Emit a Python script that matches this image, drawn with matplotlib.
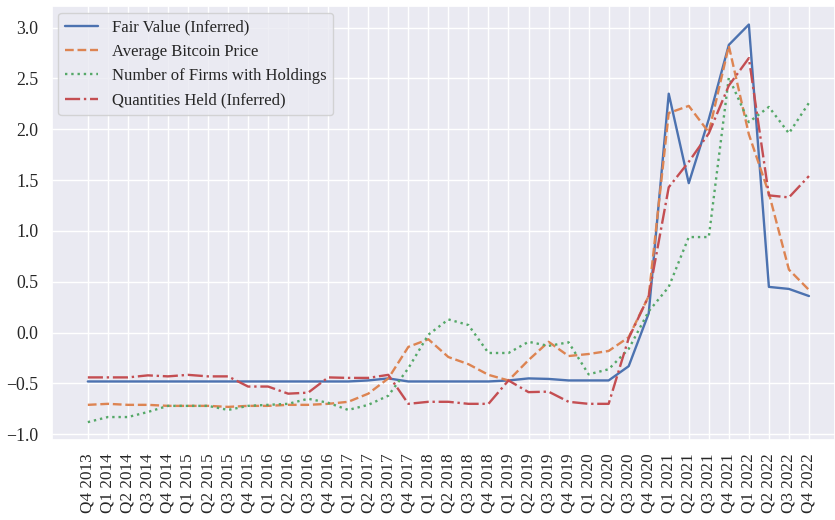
import matplotlib
matplotlib.use("Agg")
import matplotlib.pyplot as plt
import seaborn as sns

sns.set_theme(style="darkgrid", palette="deep")
plt.rcParams["font.family"] = ["Liberation Serif", "DejaVu Serif"]

quarters = [
    "Q4 2013",
    "Q1 2014", "Q2 2014", "Q3 2014", "Q4 2014",
    "Q1 2015", "Q2 2015", "Q3 2015", "Q4 2015",
    "Q1 2016", "Q2 2016", "Q3 2016", "Q4 2016",
    "Q1 2017", "Q2 2017", "Q3 2017", "Q4 2017",
    "Q1 2018", "Q2 2018", "Q3 2018", "Q4 2018",
    "Q1 2019", "Q2 2019", "Q3 2019", "Q4 2019",
    "Q1 2020", "Q2 2020", "Q3 2020", "Q4 2020",
    "Q1 2021", "Q2 2021", "Q3 2021", "Q4 2021",
    "Q1 2022", "Q2 2022", "Q3 2022", "Q4 2022",
]

fair_value = [
    -0.48,
    -0.48, -0.48, -0.48, -0.48,
    -0.48, -0.48, -0.48, -0.48,
    -0.48, -0.48, -0.48, -0.48,
    -0.48, -0.47, -0.45, -0.48,
    -0.48, -0.48, -0.48, -0.48,
    -0.47, -0.45, -0.455, -0.47,
    -0.47, -0.47, -0.33, 0.19,
    2.35, 1.47, 2.10, 2.83,
    3.03, 0.45, 0.43, 0.36,
]

avg_btc_price = [
    -0.71,
    -0.70, -0.71, -0.71, -0.72,
    -0.72, -0.72, -0.73, -0.72,
    -0.72, -0.71, -0.71, -0.70,
    -0.68, -0.60, -0.45, -0.14,
    -0.065, -0.24, -0.31, -0.415,
    -0.47, -0.27, -0.09, -0.23,
    -0.21, -0.18, -0.045, 0.36,
    2.16, 2.23, 1.97, 2.82,
    1.95, 1.37, 0.62, 0.42,
]

num_firms = [
    -0.88,
    -0.83, -0.83, -0.78, -0.72,
    -0.72, -0.72, -0.76, -0.72,
    -0.71, -0.70, -0.65, -0.69,
    -0.76, -0.71, -0.62, -0.35,
    -0.02, 0.13, 0.075, -0.20,
    -0.20, -0.09, -0.13, -0.095,
    -0.41, -0.36, -0.16, 0.21,
    0.45, 0.94, 0.94, 2.51,
    2.07, 2.22, 1.96, 2.26,
]

quantities_held = [
    -0.44,
    -0.44, -0.44, -0.42, -0.43,
    -0.415, -0.43, -0.43, -0.53,
    -0.53, -0.60, -0.59, -0.44,
    -0.445, -0.445, -0.415, -0.70,
    -0.68, -0.68, -0.70, -0.70,
    -0.47, -0.585, -0.58, -0.68,
    -0.70, -0.70, -0.055, 0.36,
    1.43, 1.68, 1.96, 2.43,
    2.70, 1.35, 1.33, 1.54,
]

series = [
    ("Fair Value (Inferred)", fair_value, "-"),
    ("Average Bitcoin Price", avg_btc_price, "--"),
    ("Number of Firms with Holdings", num_firms, ":"),
    ("Quantities Held (Inferred)", quantities_held, "-."),
]

fig, ax = plt.subplots(figsize=(8.35, 5.2), dpi=100)
fig.subplots_adjust(left=0.062, right=1.0, top=0.988, bottom=0.153)

x = list(range(len(quarters)))
for label, values, ls in series:
    ax.plot(x, values, linestyle=ls, linewidth=1.7, label=label)

ax.set_xticks(x)
ax.set_xticklabels(quarters, rotation=90, fontsize=12.3)
ax.tick_params(axis="y", labelsize=12.8)
ax.set_xlim(-1.8, 37.3)
ax.set_ylim(-1.06, 3.21)

ax.legend(loc="upper left", fontsize=12, labelspacing=0.5,
          borderaxespad=0.4)

fig.savefig("out.png", dpi=100)
